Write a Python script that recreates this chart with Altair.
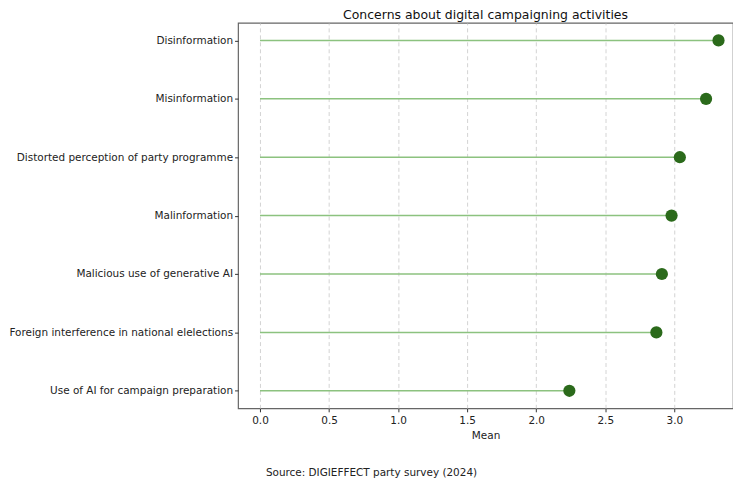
import altair as alt
import pandas as pd

categories = [
    "Disinformation",
    "Misinformation",
    "Distorted perception of party programme",
    "Malinformation",
    "Malicious use of generative AI",
    "Foreign interference in national elelections",
    "Use of AI for campaign preparation",
]
means = [3.32, 3.23, 3.04, 2.98, 2.91, 2.87, 2.24]
x_ticks = [0.0, 0.5, 1.0, 1.5, 2.0, 2.5, 3.0]
source_text = ["Source: DIGIEFFECT party survey (2024)"]

df = pd.DataFrame({"category": categories, "mean": means, "zero": [0.0] * len(means)})
src = pd.DataFrame({"label": source_text})

W, H = 497, 387
FONT = "DejaVu Sans"

xscale = alt.Scale(domain=[-0.159, 3.425], nice=False, zero=False)
yscale = alt.Scale(type="point", domain=categories, padding=0.3)

base = alt.Chart(df)

lines = base.mark_rule(color="#8cc27f", strokeWidth=1.5).encode(
    x=alt.X("zero:Q", scale=xscale,
            axis=alt.Axis(title="Mean", values=x_ticks, format=".1f",
                          grid=True, gridDash=[4, 3], gridColor="#c8c8c8",
                          gridWidth=0.8, domain=False, tickColor="#333",
                          tickSize=3.5, labelFontSize=10.5, titleFontSize=10.5,
                          labelColor="#222", titleColor="#222",
                          titleFontWeight="normal", labelPadding=3.5,
                          titlePadding=5, labelFont=FONT, titleFont=FONT)),
    x2="mean:Q",
    y=alt.Y("category:N", scale=yscale, sort=categories,
            axis=alt.Axis(title=None, domain=False, grid=False,
                          tickColor="#333", tickSize=3.5, labelFontSize=10.5,
                          labelColor="#222", labelPadding=2, labelFont=FONT,
                          labelLimit=400)),
)

dots = base.mark_circle(color="#2b6a1b", opacity=1, size=150).encode(
    x=alt.X("mean:Q", scale=xscale),
    y=alt.Y("category:N", scale=yscale, sort=categories),
)

source = alt.Chart(src).mark_text(
    fontSize=10.5, font=FONT, color="#222", align="center", baseline="middle"
).encode(
    text="label:N",
    x=alt.value(370 - 236),
    y=alt.value(H + 65),
)

chart = alt.layer(lines, dots, source).properties(
    width=W,
    height=H,
    padding=0,
    background="white",
    title=alt.TitleParams("Concerns about digital campaigning activities",
                          fontSize=12.5, font=FONT, fontWeight="normal",
                          color="#111", anchor="middle", offset=1),
).configure_view(stroke="#666", strokeWidth=1.2)

chart.save("out.html", embed_options={"renderer": "svg", "actions": False})
